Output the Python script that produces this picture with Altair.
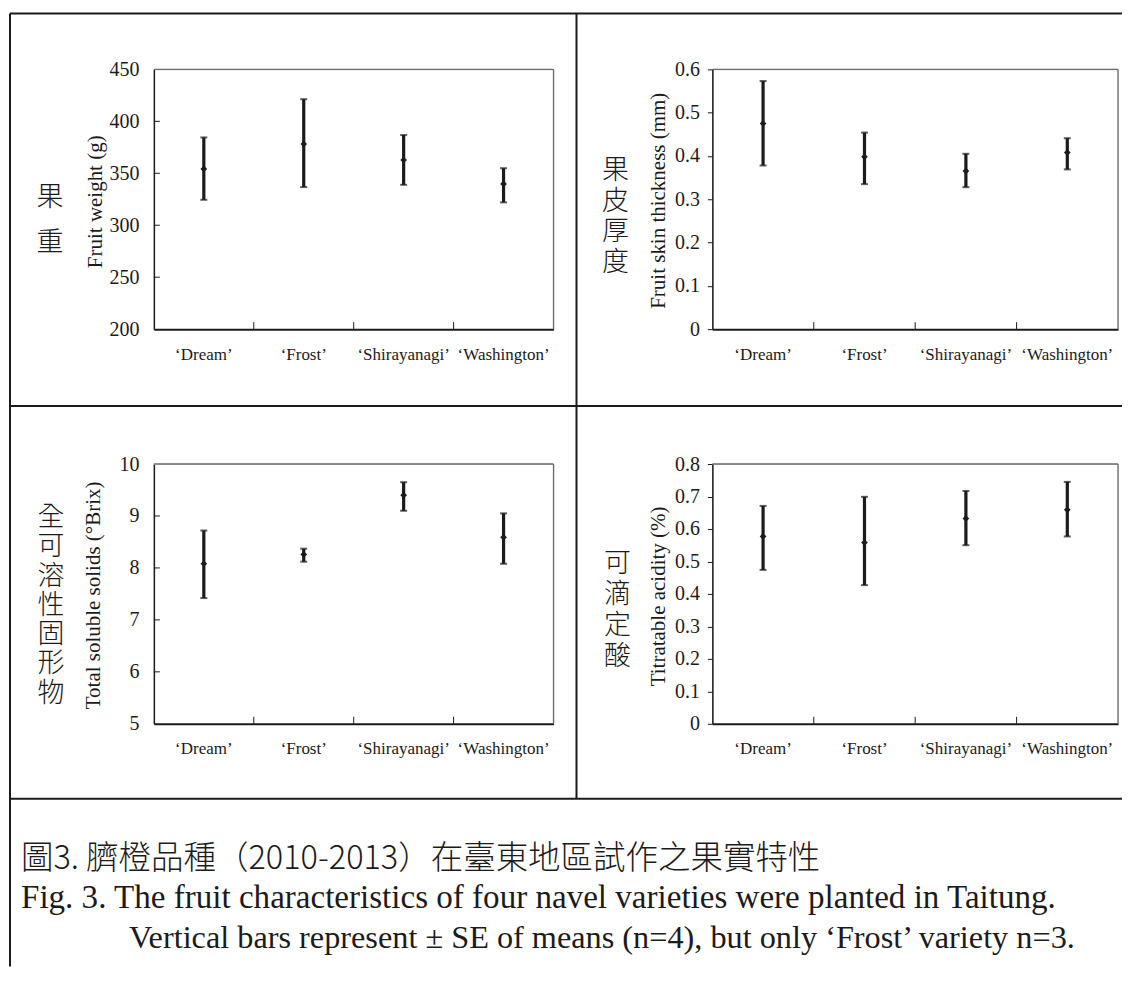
import altair as alt
import pandas as pd

SERIF = "Liberation Serif"
CJK = "Noto Sans CJK TC"
INK = "#1c1a1a"
BOXGRAY = "#6a6a6a"

CATEGORIES = ["‘Dream’", "‘Frost’", "‘Shirayanagi’", "‘Washington’"]

WEIGHT_MEAN = [354.2, 378.2, 362.8, 339.8]
WEIGHT_HI = [384.5, 421.3, 386.8, 354.9]
WEIGHT_LO = [324.5, 336.7, 338.9, 322.0]
WEIGHT_TICKS = [200, 250, 300, 350, 400, 450]

SKIN_MEAN = [0.475, 0.398, 0.365, 0.408]
SKIN_HI = [0.573, 0.454, 0.405, 0.441]
SKIN_LO = [0.378, 0.335, 0.328, 0.369]
SKIN_TICKS = [0, 0.1, 0.2, 0.3, 0.4, 0.5, 0.6]

TSS_MEAN = [8.08, 8.26, 9.40, 8.59]
TSS_HI = [8.72, 8.37, 9.65, 9.05]
TSS_LO = [7.42, 8.12, 9.10, 8.08]
TSS_TICKS = [5, 6, 7, 8, 9, 10]

TA_MEAN = [0.577, 0.558, 0.632, 0.659]
TA_HI = [0.671, 0.699, 0.717, 0.745]
TA_LO = [0.474, 0.427, 0.550, 0.577]
TA_TICKS = [0, 0.1, 0.2, 0.3, 0.4, 0.5, 0.6, 0.7, 0.8]

YTITLES = ["Fruit weight (g)", "Fruit skin thickness (mm)",
           "Total soluble solids (°Brix)", "Titratable acidity (%)"]
ZH_LABELS = ["果重", "果皮厚度", "全可溶性固形物", "可滴定酸"]

CAPTION_ZH = "圖3. 臍橙品種（2010-2013）在臺東地區試作之果實特性"
CAPTION_EN1 = "Fig. 3. The fruit characteristics of four navel varieties were planted in Taitung."
CAPTION_EN2 = "Vertical bars represent ± SE of means (n=4), but only ‘Frost’ variety n=3."

ONE = pd.DataFrame({"k": [0]})


def seg(x1, y1, x2, y2, color=INK, width=2):
    return alt.Chart(ONE).mark_rule(color=color, strokeWidth=width).encode(
        x=alt.value(x1), y=alt.value(y1), x2=alt.value(x2), y2=alt.value(y2))


def panel(mean, hi, lo, ticks, fmt, w, h, ytitle, tpos, zh, zpos, zstep,
          inward_y, ylab_pad, extra=()):
    df = pd.DataFrame({"cat": CATEGORIES, "mean": mean, "hi": hi, "lo": lo})
    xs = alt.Scale(domain=CATEGORIES, paddingInner=0, paddingOuter=0)
    ys = alt.Scale(domain=[ticks[0], ticks[-1]], nice=False, zero=False)
    xaxis = alt.Axis(title=None, labelAngle=0, labelFont=SERIF, labelFontSize=17,
                     labelColor=INK, labelPadding=17, labelOverlap=False,
                     ticks=False, domainColor=INK, domainWidth=2, grid=False)
    yaxis = alt.Axis(values=ticks, format=fmt, labelFont=SERIF, labelFontSize=20,
                     labelColor=INK, labelPadding=ylab_pad, labelOverlap=False,
                     ticks=not inward_y, tickSize=5, tickColor=INK, tickWidth=1,
                     domainColor=INK, domainWidth=1.5, grid=False,
                     title=ytitle, titleFont=SERIF, titleFontSize=21,
                     titleFontWeight="normal", titleColor=INK, titleAngle=270,
                     titleX=tpos[0], titleY=tpos[1], titleAlign="center",
                     titleBaseline="middle")
    X = lambda f, **k: alt.X(f, scale=xs, axis=xaxis, **k)
    Y = lambda f: alt.Y(f, scale=ys, axis=yaxis)
    base = alt.Chart(df)
    bars = base.mark_rule(color=INK, strokeWidth=3.2).encode(
        x=X("cat:N"), y=Y("lo:Q"), y2="hi:Q")
    cap_hi = base.mark_tick(color=INK, thickness=2, size=7).encode(
        x=X("cat:N"), y=Y("hi:Q"))
    cap_lo = base.mark_tick(color=INK, thickness=2, size=7).encode(
        x=X("cat:N"), y=Y("lo:Q"))
    pts = base.mark_point(shape="diamond", filled=True, size=45, color=INK,
                          opacity=1).encode(x=X("cat:N"), y=Y("mean:Q"))
    xt = alt.Chart(pd.DataFrame({"cat": CATEGORIES[1:]})).mark_rule(
        color=INK, strokeWidth=1).encode(
        x=X("cat:N", bandPosition=0), y=alt.value(h - 7), y2=alt.value(h))
    layers = [bars, cap_hi, cap_lo, pts, xt,
              seg(0, 0, w, 0, BOXGRAY, 1.3), seg(w, 0, w, h, BOXGRAY, 1.3)]
    if inward_y:
        yt = alt.Chart(pd.DataFrame({"v": ticks[1:-1]})).mark_rule(
            color=INK, strokeWidth=1).encode(
            y=Y("v:Q"), x=alt.value(0), x2=alt.value(6))
        layers.append(yt)
    zh_text = alt.Chart(ONE).mark_text(
        font=CJK, fontSize=27, fontWeight=300, color=INK, align="center",
        baseline="middle", lineHeight=zstep).encode(
        x=alt.value(zpos[0]), y=alt.value(zpos[1]), text=alt.value(list(zh)))
    layers.append(zh_text)
    layers += list(extra)
    return alt.layer(*layers).properties(width=w, height=h)


# figure frame and caption, positioned relative to the first panel's plot area
RIGHT = 969
BOTTOM = 898
cap_df = pd.DataFrame({"zh": [CAPTION_ZH], "en1": [CAPTION_EN1], "en2": [CAPTION_EN2]})
cap_base = alt.Chart(cap_df)
frame_and_caption = [
    seg(-144, -56, -144, BOTTOM),
    seg(-144, -56, RIGHT, -56),
    seg(423, -56, 423, 730),
    seg(-144, 337, RIGHT, 337),
    seg(-144, 730, RIGHT, 730),
    cap_base.mark_text(font=CJK, fontSize=32.5, fontWeight=300, color=INK,
                       align="left", baseline="middle").encode(
        x=alt.value(-133), y=alt.value(790), text="zh:N"),
    cap_base.mark_text(font=SERIF, fontSize=33.1, color=INK, align="left",
                       baseline="middle").encode(
        x=alt.value(-133), y=alt.value(829), text="en1:N"),
    cap_base.mark_text(font=SERIF, fontSize=32.3, color=INK, align="left",
                       baseline="middle").encode(
        x=alt.value(-25), y=alt.value(869), text="en2:N"),
]

p1 = panel(WEIGHT_MEAN, WEIGHT_HI, WEIGHT_LO, WEIGHT_TICKS, "d", 400, 260,
           YTITLES[0], (-58, 132), ZH_LABELS[0], (-104, 129), 45, True, 15,
           frame_and_caption)
p2 = panel(SKIN_MEAN, SKIN_HI, SKIN_LO, SKIN_TICKS, ".1~f", 406, 260,
           YTITLES[1], (-54, 131), ZH_LABELS[1], (-97, 102), 30.5, False, 8)
p3 = panel(TSS_MEAN, TSS_HI, TSS_LO, TSS_TICKS, "d", 400, 260,
           YTITLES[2], (-60, 131), ZH_LABELS[2], (-103, 54), 29.3, True, 15)
p4 = panel(TA_MEAN, TA_HI, TA_LO, TA_TICKS, ".1~f", 406, 260,
           YTITLES[3], (-54, 132), ZH_LABELS[3], (-95, 100), 31, False, 8)

chart = alt.concat(
    p1, p2, p3, p4, columns=2, bounds="flush",
    spacing=alt.RowColnumber(row=135, column=159),
).properties(
    padding={"left": 0, "top": 3, "right": 0, "bottom": 0}
).configure_view(stroke=None).configure(background="white")

chart.save("out.html", embed_options={"renderer": "svg", "actions": False})
